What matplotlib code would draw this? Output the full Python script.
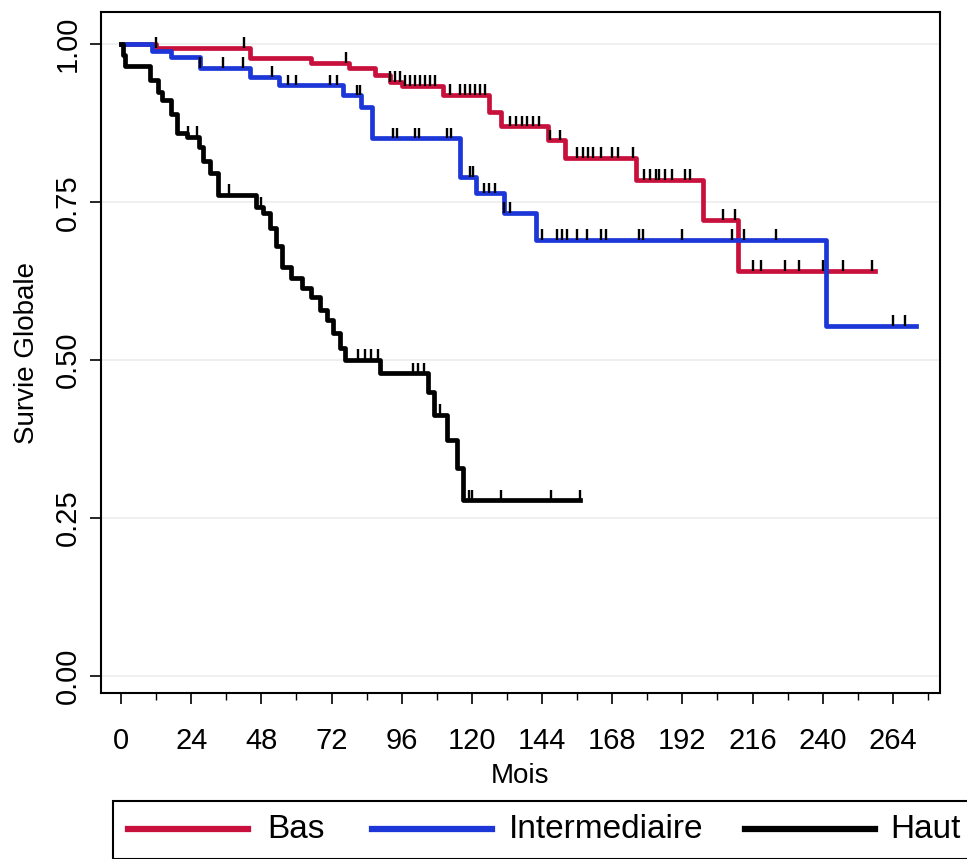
import numpy as np
import matplotlib
matplotlib.use("Agg")
import matplotlib.pyplot as plt
from matplotlib.lines import Line2D
from matplotlib.patches import Rectangle

plt.rcParams['font.family'] = ['Liberation Sans Narrow', 'Liberation Sans', 'DejaVu Sans']

# courbes de Kaplan-Meier (temps en mois, survie)
bas_t = [0, 12, 44, 65, 78, 87, 92, 96, 110, 126, 130, 146, 152, 176, 199, 211, 258]
bas_s = [1.0, 0.994, 0.979, 0.970, 0.962, 0.952, 0.940, 0.934, 0.920, 0.892, 0.870,
         0.848, 0.820, 0.785, 0.722, 0.641, 0.641]
bas_cens = [12, 42, 77, 92, 93.7, 95.4, 97, 99, 100.5, 102.3, 104, 105.7, 107.4,
            112.5, 116, 117.6, 119.4, 121, 122.8, 124.5, 133, 135, 137, 139, 141, 143,
            146.7, 150, 156, 158, 159.6, 161.4, 164, 168, 170, 175, 179, 181, 183, 184,
            186, 188.5, 193, 194.6, 206, 210, 216, 219, 227, 232, 240, 247, 257]

inter_t = [0, 10.6, 17, 27, 44, 54, 76, 82, 86, 116, 121.5, 131, 142, 241, 272]
inter_s = [1.0, 0.990, 0.980, 0.963, 0.948, 0.935, 0.919, 0.900, 0.851, 0.790, 0.764,
           0.733, 0.690, 0.554, 0.554]
inter_cens = [27, 35, 41.7, 51.6, 57, 60, 71.5, 74, 80.7, 81.7, 93, 94.4, 100.5, 102,
              111.5, 113, 119.4, 120.4, 124, 126, 128, 131, 133, 144, 149, 151, 152.5,
              156, 159.4, 164, 166, 177, 178.5, 192, 209, 213, 224, 264, 268]

haut_t = [0, 0.7, 1.5, 10, 12.5, 14, 17, 19, 22.6, 26.5, 28, 30.4, 33, 46, 48.5, 51, 53,
          55, 58, 62, 65, 68, 70.5, 72.5, 75, 76.6, 88.6, 105, 107, 111.5, 115, 117, 157]
haut_s = [1.0, 0.983, 0.965, 0.943, 0.925, 0.911, 0.890, 0.860, 0.853, 0.837, 0.816,
          0.796, 0.762, 0.742, 0.733, 0.710, 0.680, 0.647, 0.630, 0.615, 0.600, 0.580,
          0.563, 0.543, 0.520, 0.500, 0.479, 0.450, 0.413, 0.373, 0.330, 0.278, 0.278]
haut_cens = [23, 26, 37, 48, 81, 83.5, 85.5, 88, 100, 101.5, 103.5, 109,
             119, 120, 130, 147, 157]

labels = ['Bas', 'Intermediaire', 'Haut']
couleurs = ['#c8103c', '#1c36d8', '#000000']

fig = plt.figure(figsize=(9.67, 8.59), dpi=100)
ax = fig.add_axes([0.1045, 0.193, 0.8675, 0.793])

groupes = [(bas_t, bas_s, bas_cens), (inter_t, inter_s, inter_cens), (haut_t, haut_s, haut_cens)]
for (t, s, cens), lab, c in zip(groupes, labels, couleurs):
    ax.step(t, s, where='post', color=c, lw=3.4, label=lab, zorder=3)
    t = np.array(t)
    s = np.array(s)
    idx = np.searchsorted(t, cens, side='right') - 1
    sc = s[np.clip(idx, 0, len(s) - 1)]
    ax.vlines(cens, sc, sc + 0.017, color='black', lw=1.7, zorder=4)

ax.set_xlim(-6.84, 280.1)
ax.set_ylim(-0.027, 1.051)
ax.set_xticks(np.arange(0, 265, 24))
ax.set_xticks(np.arange(0, 277, 12), minor=True)
ax.set_yticks([0, 0.25, 0.5, 0.75, 1.0])
ax.set_yticklabels(['0.00', '0.25', '0.50', '0.75', '1.00'], rotation=90, va='center')
ax.tick_params(axis='both', which='major', length=8, width=1.2, labelsize=21)
ax.tick_params(axis='x', which='major', pad=16)
ax.tick_params(axis='y', which='major', pad=6)
ax.tick_params(axis='x', which='minor', length=5, width=1.0)
ax.grid(axis='y', color='#ececec', lw=1.2, zorder=0)
for sp in ax.spines.values():
    sp.set_linewidth(1.5)
ax.set_xlabel('Mois', fontsize=20, labelpad=6)
ax.set_ylabel('Survie Globale', fontsize=20, labelpad=10)

# legende sous le graphique
fig.add_artist(Rectangle((113 / 967, 0.0005), 0.9, 58 / 859, transform=fig.transFigure,
                         fill=False, edgecolor='black', lw=1.5))
leg_y = 1 - 829 / 859
leg_x = [(128, 248, 267), (372, 492, 509), (745, 875, 890)]
for (x0, x1, xt), lab, c in zip(leg_x, labels, couleurs):
    fig.add_artist(Line2D([x0 / 967, x1 / 967], [leg_y, leg_y], transform=fig.transFigure,
                          color=c, lw=4.5))
    fig.text(xt / 967, leg_y, lab, fontsize=24, va='center', ha='left')

fig.savefig('out.png', dpi=100)
